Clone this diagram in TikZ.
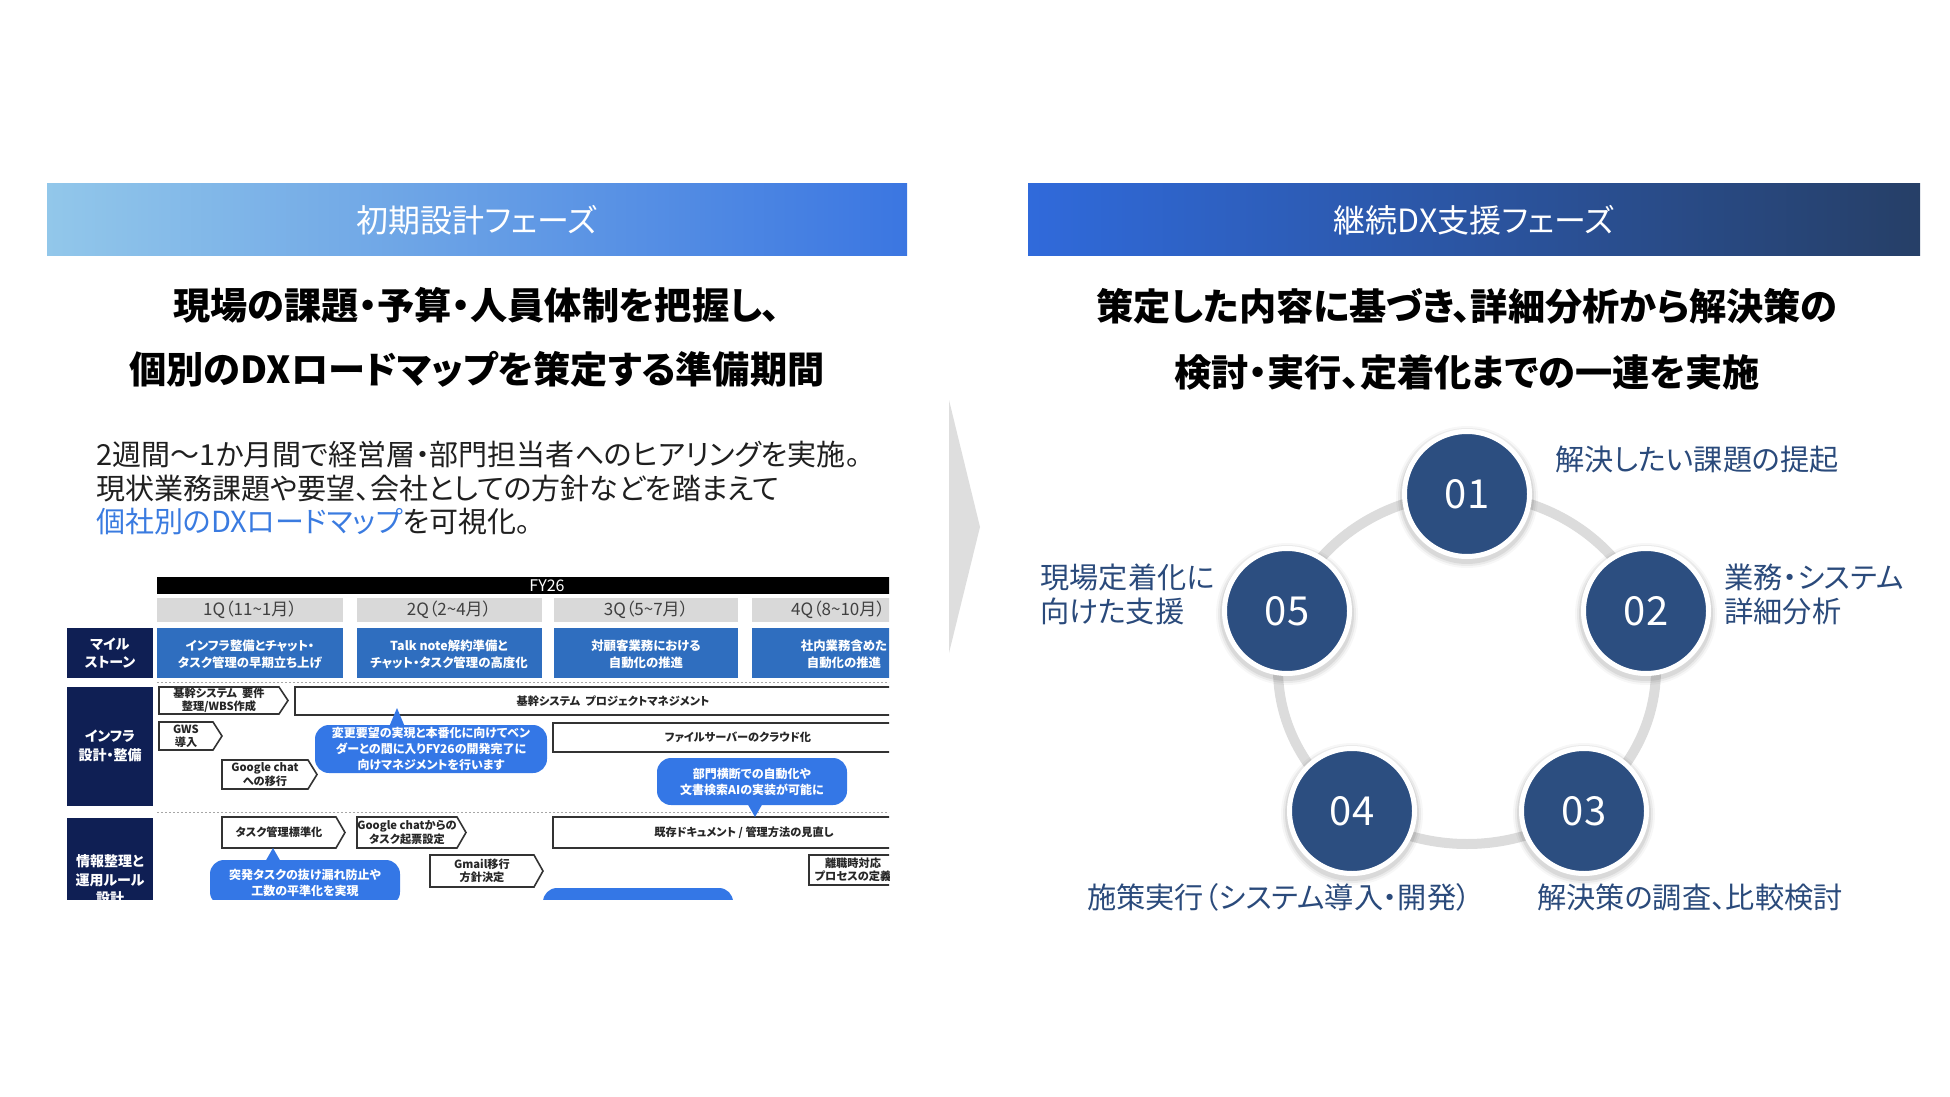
\documentclass[tikz,border=0pt]{standalone}
\usepackage{fontspec}
\setmainfont{Noto Sans CJK JP}[RawFeature={+palt}]
\definecolor{hdrA}{HTML}{92C7EA}
\definecolor{hdrB}{HTML}{3B76E1}
\definecolor{hdrC}{HTML}{306ADB}
\definecolor{hdrD}{HTML}{263F67}
\definecolor{navytxt}{HTML}{2A4A7B}
\definecolor{circfill}{HTML}{2C4E80}
\definecolor{ringgray}{HTML}{DCDCDC}
\definecolor{linkblue}{HTML}{3A7BE0}
\definecolor{rmnavy}{HTML}{0F1F54}
\definecolor{msblue}{HTML}{2F6EBF}
\definecolor{bubblue}{HTML}{3477E6}
\definecolor{qgray}{HTML}{D9D9D9}
\definecolor{chevgray}{HTML}{DEDEDE}

\newcommand\chevbox[6]{%
  \draw[chevst] (#2,#3) -- ({#4-9},#3) -- (#4,{(#3+#5)/2}) -- ({#4-9},#5) -- (#2,#5) -- cycle;
  \node[rmtext] (#1) at ({(#2+#4-9)/2},{(#3+#5)/2}) {#6};}
\newcommand\rectbox[8]{%
  \draw[chevst] (#2,#3) rectangle (#4,#5);
  \node[rmtext] (#1) at (#6,#7) {#8};}
\newcommand\bubblebox[9]{%
  \fill[bubblue, rounded corners=7] (#2,#3) rectangle (#4,#5);
  \fill[bubblue] ({#6-8},#8) -- (#6,#7) -- ({#6+8},#8) -- cycle;
  \node[bubtext] (#1) at ({(#2+#4)/2},{(#3+#5)/2}) {#9};}

\begin{document}
\begin{tikzpicture}[x=0.5pt,y=-0.5pt,
  hdrtext/.style={text=white, font=\fontsize{16pt}{19pt}\selectfont, inner sep=0pt},
  headline/.style={text=black, font=\fontsize{18.6pt}{22pt}\selectfont\bfseries, inner sep=0pt},
  bodyline/.style={text=black!88, font=\fontsize{14.5pt}{17pt}\selectfont, inner sep=0pt, anchor=west},
  steplabel/.style={text=navytxt, font=\fontsize{14.6pt}{17pt}\selectfont, inner sep=0pt, align=left},
  numcirc/.style={circle, fill=circfill, draw=white, line width=2.5pt, minimum size=62.5pt, inner sep=0pt, text=white, font=\fontsize{20pt}{24pt}\selectfont},
  rmtext/.style={font=\fontsize{5.6pt}{6.6pt}\selectfont\bfseries, align=center, inner sep=0pt, text=black!85},
  chevst/.style={draw=black!80, line width=0.8pt, fill=white},
  bubtext/.style={font=\fontsize{6pt}{8pt}\selectfont\bfseries, text=white, align=center, inner sep=0pt},
  labtext/.style={font=\fontsize{7pt}{9.2pt}\selectfont\bfseries, text=white, align=center, inner sep=0pt},
  mstext/.style={font=\fontsize{6.2pt}{8.5pt}\selectfont\bfseries, text=white, align=center, inner sep=0pt},
  qtext/.style={font=\fontsize{8.5pt}{9pt}\selectfont, text=black!75, inner sep=0pt},
  sepline/.style={draw=black!35, line width=0.5pt, dash pattern=on 1pt off 1pt}
]
\useasboundingbox (0,0) rectangle (1950,1097);

% ---------- headers ----------
\shade[left color=hdrA, right color=hdrB] (47,184) rectangle (907,255);
\node[hdrtext] (hL) at (477,220) {初期設計フェーズ};
\shade[left color=hdrC, right color=hdrD] (1028,184) rectangle (1920,255);
\node[hdrtext] (hR) at (1474,220) {継続DX支援フェーズ};

% ---------- left headline ----------
\node[headline] (lh1) at (477,305) {現場の課題・予算・人員体制を把握し、};
\node[headline] (lh2) at (477,369) {個別のDXロードマップを策定する準備期間};

\node[bodyline] (b1) at (96,454) {2週間～1か月間で経営層・部門担当者へのヒアリングを実施。};
\node[bodyline] (b2) at (96,489) {現状業務課題や要望、会社としての方針などを踏まえて};
\node[bodyline] (b3) at (96,522) {{\color{linkblue}個社別のDXロードマップ}を可視化。};

% ---------- roadmap ----------
\begin{scope}
\clip (66,575) rectangle (889,899);
\fill[black] (157,577) rectangle (960,594);
\node[font=\fontsize{8pt}{9pt}\selectfont, text=white, inner sep=0pt] (fy) at (547,586) {FY26};
\fill[qgray] (157,598) rectangle (343,622);
\fill[qgray] (357,598) rectangle (542,622);
\fill[qgray] (554,598) rectangle (738,622);
\fill[qgray] (752,598) rectangle (924,622);
\node[qtext] (q1) at (250,610) {1Q（11\textasciitilde 1月）};
\node[qtext] (q2) at (449,610) {2Q（2\textasciitilde 4月）};
\node[qtext] (q3) at (646,610) {3Q（5\textasciitilde 7月）};
\node[qtext] (q4) at (838,610) {4Q（8\textasciitilde 10月）};

\fill[rmnavy] (67,628) rectangle (153,678);
\node[labtext] (lab1) at (110,653) {マイル\\ストーン};
\fill[msblue] (157,628) rectangle (343,678);
\fill[msblue] (357,628) rectangle (542,678);
\fill[msblue] (554,628) rectangle (738,678);
\fill[msblue] (752,628) rectangle (936,678);
\node[mstext] (m1) at (250,654) {インフラ整備とチャット・\\タスク管理の早期立ち上げ};
\node[mstext] (m2) at (449,654) {Talk note解約準備と\\チャット・タスク管理の高度化};
\node[mstext] (m3) at (646,654) {対顧客業務における\\自動化の推進};
\node[mstext] (m4) at (844,654) {社内業務含めた\\自動化の推進};

\draw[sepline] (157,682) -- (960,682);
\draw[sepline] (157,812) -- (960,812);

\fill[rmnavy] (67,687) rectangle (153,806);
\node[labtext] (lab2) at (110,746) {インフラ\\設計・整備};
\fill[rmnavy] (67,818) rectangle (153,960);
\node[labtext] (lab3) at (110,880) {情報整理と\\運用ルール\\設計};

\chevbox{c1}{159}{687}{288}{714}{基幹システム\ \ 要件\\整理/WBS作成}
\rectbox{r1}{295}{687}{960}{715}{613}{701}{基幹システム\ \ プロジェクトマネジメント}
\chevbox{c2}{159}{722}{222}{750}{GWS\\導入}
\chevbox{c3}{222}{760}{317}{789}{Google chat\\への移行}
\rectbox{r2}{553}{723}{960}{752}{738}{737.5}{ファイルサーバーのクラウド化}
\bubblebox{bb1}{315}{725}{547}{773}{397}{708}{727}{変更要望の実現と本番化に向けてベン\\ダーとの間に入りFY26の開発完了に\\向けマネジメントを行います}
\rectbox{r3}{553}{817}{960}{848}{744}{832.5}{既存ドキュメント / 管理方法の見直し}
\bubblebox{bb2}{657}{758}{847}{805}{755}{817}{803}{部門横断での自動化や\\文書検索AIの実装が可能に}
\chevbox{c4}{222}{817}{345}{848}{タスク管理標準化}
\chevbox{c5}{357}{817}{466}{848}{Google chatからの\\タスク起票設定}
\bubblebox{bb3}{210}{860}{400}{906}{273}{848}{862}{突発タスクの抜け漏れ防止や\\工数の平準化を実現}
\chevbox{c6}{430}{855}{543}{887}{Gmail移行\\方針決定}
\rectbox{r4}{809}{855}{960}{885}{853}{870}{離職時対応\\プロセスの定義}
\bubblebox{bb4}{543}{888}{733}{940}{620}{1000}{930}{事務作業の大幅削減により\\ }
\end{scope}

% ---------- chevron between panels ----------
\fill[chevgray] (949,400) -- (980,527) -- (949,653) -- cycle;

% ---------- right headline ----------
\node[headline] (rh1) at (1467,306) {策定した内容に基づき、詳細分析から解決策の};
\node[headline] (rh2) at (1467,372) {検討・実行、定着化までの一連を実施};

% ---------- cycle ----------
\draw[ringgray, line width=5pt] (1467,669) ellipse [x radius=189, y radius=175];
\foreach \p in {(1467,494),(1646,611),(1584,811),(1352,811),(1287,611)}{
  \foreach \r/\o in {71/0.03,69/0.05,67/0.07}
    \fill[black, opacity=\o] \p ++(0,3) circle [radius=\r];
}
\node[numcirc] (s1) at (1467,494) {01};
\node[numcirc] (s2) at (1646,611) {02};
\node[numcirc] (s3) at (1584,811) {03};
\node[numcirc] (s4) at (1352,811) {04};
\node[numcirc] (s5) at (1287,611) {05};

\node[steplabel, anchor=west] (t1) at (1555,460) {解決したい課題の提起};
\node[steplabel, anchor=west] (t2) at (1724,594) {業務・システム\\詳細分析};
\node[steplabel, anchor=west] (t5) at (1040,594) {現場定着化に\\向けた支援};
\node[steplabel] (t4) at (1279,897) {施策実行（システム導入・開発）};
\node[steplabel] (t3) at (1690,897) {解決策の調査、比較検討};
\end{tikzpicture}
\end{document}
